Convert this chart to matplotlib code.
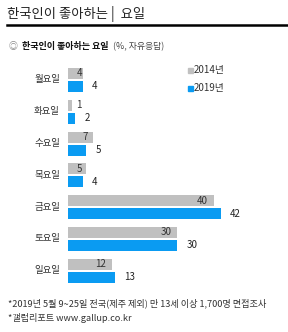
import matplotlib
matplotlib.use("Agg")
import matplotlib.pyplot as plt

plt.rcParams['font.family'] = ['Noto Sans CJK KR', 'DejaVu Sans']

days = ['월요일', '화요일', '수요일', '목요일', '금요일', '토요일', '일요일']
v2014 = [4, 1, 7, 5, 40, 30, 12]
v2019 = [4, 2, 5, 4, 42, 30, 13]

GRAY = '#C0C0C0'
BLUE = '#0A9BF2'
W, H = 288, 332

fig = plt.figure(figsize=(W / 100, H / 100), dpi=100)

# pixel helpers (from top-left)
def fx(px):
    return px / W

def fy(py):
    return 1 - py / H

# title + rule
fig.text(fx(7), fy(14), '한국인이 좋아하는 |  요일', fontsize=9.6, va='center', ha='left', color='#222222')
fig.add_artist(plt.Line2D([fx(7), fx(288)], [fy(25), fy(25)], color='black', lw=1.8))

# subtitle
fig.text(fx(9), fy(47), '◎', fontsize=6.5, va='center', ha='left', color='#888888')
fig.text(fx(22), fy(47), '한국인이 좋아하는 요일', fontsize=6.5, va='center', ha='left',
         fontweight='bold', color='#111111')
fig.text(fx(113), fy(47), '(%, 자유응답)', fontsize=6.4, va='center', ha='left', color='#444444')

# bar axes
ax_left, ax_top, row_h = 68, 64, 31.8
n = len(days)
ax = fig.add_axes([fx(ax_left), fy(ax_top + n * row_h), fx(W - ax_left), n * row_h / H])
px_per_unit = 3.64
ax.set_xlim(0, (W - ax_left) / px_per_unit)
ax.set_ylim(n, 0)
ax.axis('off')

bh = 11 / row_h
off = 6.5 / row_h
for i, (d, a, b) in enumerate(zip(days, v2014, v2019)):
    yc = i + 0.5
    ax.barh(yc - off, a, height=bh, color=GRAY)
    ax.barh(yc + off, b, height=bh, color=BLUE)
    gx = max(a - 6 / px_per_unit, 14 / px_per_unit)
    ax.text(gx, yc - off, str(a), ha='right', va='center', fontsize=7, color='#333333')
    ax.text(b + 9 / px_per_unit, yc + off, str(b), ha='left', va='center', fontsize=7, color='#222222')
    ax.text(-8 / px_per_unit, yc, d, ha='right', va='center', fontsize=6.8, color='#333333',
            clip_on=False)

# legend
for py, col, lab in [(70, GRAY, '2014년'), (88, BLUE, '2019년')]:
    fig.patches.append(plt.Rectangle((fx(188), fy(py + 2.5)), 5 / W, 5 / H, color=col,
                                     transform=fig.transFigure, figure=fig))
    fig.text(fx(194), fy(py), lab, fontsize=7, va='center', ha='left', color='#333333')

# footnotes
fig.text(fx(8), fy(303), '*2019년 5월 9~25일 전국(제주 제외) 만 13세 이상 1,700명 면접조사',
         fontsize=6.6, va='center', ha='left', color='#333333')
fig.text(fx(8), fy(318), '*갤럽리포트 www.gallup.co.kr', fontsize=6.6, va='center', ha='left',
         color='#333333')

fig.savefig('out.png', dpi=100, facecolor='white')
